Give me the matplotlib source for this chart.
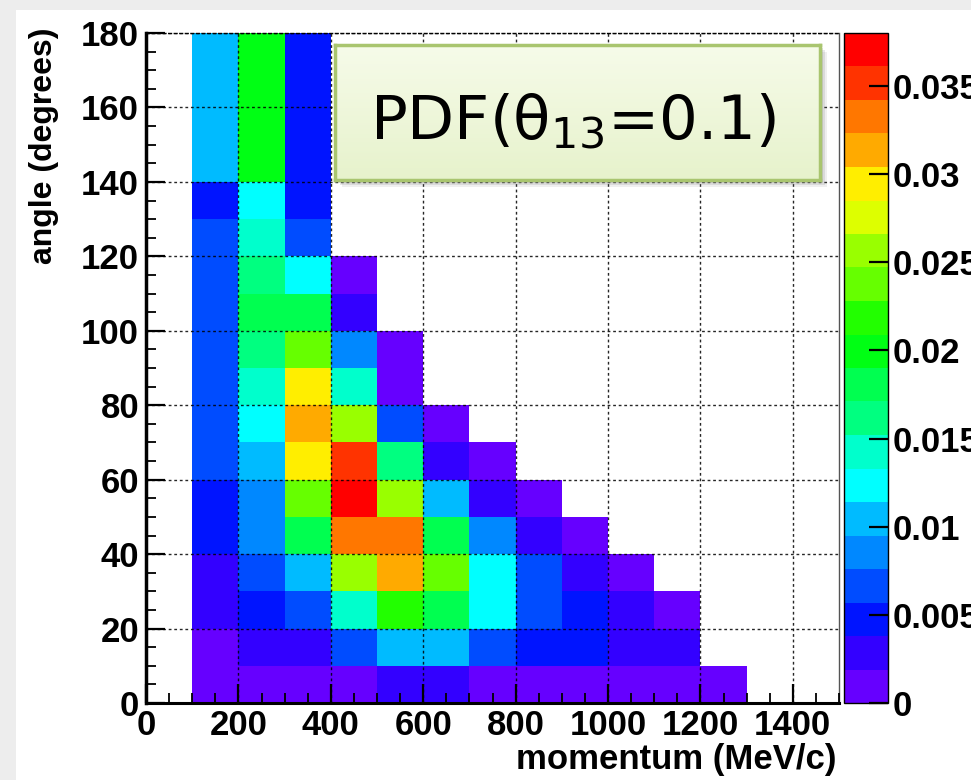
import numpy as np
import matplotlib
matplotlib.use("Agg")
import matplotlib.pyplot as plt
from matplotlib.colors import ListedColormap, BoundaryNorm
from matplotlib.ticker import MultipleLocator
from matplotlib.patches import Rectangle

# ---------------- data ----------------
momentum_edges = list(range(0, 1600, 100))   # MeV/c, 15 bins
angle_edges = list(range(0, 190, 10))        # degrees, 18 bins

# PDF value per (angle bin, momentum bin); rows from angle 0-10 up to 170-180,
# columns from momentum 0-100 up to 1400-1500 (0 = empty bin)
pdf_rows = [
    [0, .0010, .0010, .0010, .0010, .0029, .0029, .0010, .0010, .0010, .0010, .0010, .0010, 0, 0],  # 0-10
    [0, .0010, .0029, .0029, .0067, .0105, .0105, .0067, .0048, .0048, .0029, .0029, 0, 0, 0],        # 10-20
    [0, .0029, .0048, .0067, .0143, .0219, .0181, .0124, .0067, .0048, .0029, .0010, 0, 0, 0],        # 20-30
    [0, .0029, .0067, .0105, .0257, .0314, .0238, .0124, .0067, .0029, .0010, 0, 0, 0, 0],            # 30-40
    [0, .0048, .0086, .0181, .0333, .0333, .0181, .0086, .0029, .0010, 0, 0, 0, 0, 0],                # 40-50
    [0, .0048, .0086, .0238, .0371, .0257, .0105, .0029, .0010, 0, 0, 0, 0, 0, 0],                    # 50-60
    [0, .0067, .0105, .0295, .0352, .0162, .0029, .0010, 0, 0, 0, 0, 0, 0, 0],                        # 60-70
    [0, .0067, .0124, .0314, .0257, .0067, .0010, 0, 0, 0, 0, 0, 0, 0, 0],                            # 70-80
    [0, .0067, .0143, .0295, .0143, .0010, 0, 0, 0, 0, 0, 0, 0, 0, 0],                                # 80-90
    [0, .0067, .0162, .0238, .0086, .0010, 0, 0, 0, 0, 0, 0, 0, 0, 0],                                # 90-100
    [0, .0067, .0181, .0181, .0029, 0, 0, 0, 0, 0, 0, 0, 0, 0, 0],                                    # 100-110
    [0, .0067, .0162, .0124, .0010, 0, 0, 0, 0, 0, 0, 0, 0, 0, 0],                                    # 110-120
    [0, .0067, .0143, .0067, 0, 0, 0, 0, 0, 0, 0, 0, 0, 0, 0],                                        # 120-130
    [0, .0048, .0124, .0048, 0, 0, 0, 0, 0, 0, 0, 0, 0, 0, 0],                                        # 130-140
    [0, .0105, .0200, .0048, 0, 0, 0, 0, 0, 0, 0, 0, 0, 0, 0],                                        # 140-150
    [0, .0105, .0200, .0048, 0, 0, 0, 0, 0, 0, 0, 0, 0, 0, 0],                                        # 150-160
    [0, .0105, .0200, .0048, 0, 0, 0, 0, 0, 0, 0, 0, 0, 0, 0],                                        # 160-170
    [0, .0105, .0200, .0048, 0, 0, 0, 0, 0, 0, 0, 0, 0, 0, 0],                                        # 170-180
]

z_max = 0.038
n_levels = 20
cbar_ticks = [0, 0.005, 0.01, 0.015, 0.02, 0.025, 0.03, 0.035]
cbar_ticklabels = ["0", "0.005", "0.01", "0.015", "0.02", "0.025", "0.03", "0.035"]
title_text = "PDF(θ$_{13}$=0.1)"
x_label = "momentum (MeV/c)"
y_label = "angle (degrees)"

palette = ["#6600FF", "#3300FF", "#0014FF", "#004CFF", "#0088FF", "#00BBFF",
           "#00FFFF", "#00FFCC", "#00FF80", "#00FF50", "#00FF14", "#22FF00",
           "#66FF00", "#99FF00", "#DDFF00", "#FFEE00", "#FFAA00", "#FF7700",
           "#FF3300", "#FF0000"]

# ---------------- figure ----------------
W, H = 971, 780
fig = plt.figure(figsize=(W / 100, H / 100), dpi=100)
fig.patch.set_facecolor("#EDEDED")
fig.add_artist(Rectangle((16 / W, 0), 1, 1 - 10 / H, transform=fig.transFigure,
                         facecolor="white", edgecolor="none", zorder=-10))

FONT = "Liberation Sans"
TICK_FS = 25

ax = fig.add_axes([146 / W, 1 - 703 / H, 693 / W, 670 / H])
ax.set_facecolor("white")
ax.set_zorder(0)

Z = np.ma.masked_less_equal(np.array(pdf_rows, dtype=float), 0)
cmap = ListedColormap(palette)
norm = BoundaryNorm(np.linspace(0, z_max, n_levels + 1), cmap.N)
mesh = ax.pcolormesh(momentum_edges, angle_edges, Z, cmap=cmap, norm=norm,
                     shading="flat", zorder=1)

ax.set_xlim(0, 1500)
ax.set_ylim(0, 180)
ax.xaxis.set_major_locator(MultipleLocator(200))
ax.xaxis.set_minor_locator(MultipleLocator(50))
ax.yaxis.set_major_locator(MultipleLocator(20))
ax.yaxis.set_minor_locator(MultipleLocator(5))
ax.grid(True, which="major", color="black", linestyle=(0, (2, 2)),
        linewidth=1.0, alpha=0.85, zorder=3)
ax.set_axisbelow(False)

ax.tick_params(which="major", direction="in", length=14, width=1.6,
               top=False, right=False, colors="black")
ax.tick_params(which="minor", direction="in", length=7, width=1.3,
               top=False, right=False)
ax.tick_params(axis="x", pad=4)
ax.tick_params(axis="y", pad=5)
for lab in ax.get_xticklabels() + ax.get_yticklabels():
    lab.set_fontfamily(FONT)
    lab.set_fontweight("bold")
    lab.set_fontsize(TICK_FS)

ax.spines["left"].set_linewidth(2.5)
ax.spines["bottom"].set_linewidth(2.2)
ax.spines["top"].set_linewidth(1.0)
ax.spines["top"].set_linestyle((0, (2, 2)))
ax.spines["right"].set_linewidth(1.0)
ax.spines["right"].set_color("#555555")

fig.text(836 / W, 1 - 760 / H, x_label, ha="right", va="center",
         fontfamily=FONT, fontweight="bold", fontsize=25)
fig.text(44 / W, 1 - 27 / H, y_label, ha="center", va="top", rotation=90,
         fontfamily=FONT, fontweight="bold", fontsize=23)

# ---------------- colour bar ----------------
cax = fig.add_axes([844 / W, 1 - 703 / H, 44 / W, 670 / H])
cb = fig.colorbar(mesh, cax=cax, ticks=cbar_ticks, spacing="proportional")
cb.ax.set_yticklabels(cbar_ticklabels)
cb.outline.set_linewidth(1.0)
cb.outline.set_edgecolor("black")
cax.tick_params(direction="in", length=14, width=1.6, right=True, left=False,
                pad=3)
cax.minorticks_off()
for lab in cax.get_yticklabels():
    lab.set_fontfamily(FONT)
    lab.set_fontweight("bold")
    lab.set_fontsize(TICK_FS)

# ---------------- title box ----------------
bx0, by0, bw, bh = 335, 45, 485, 135
for k, a in ((7, 0.12), (5, 0.18), (3, 0.22)):
    fig.add_artist(Rectangle(((bx0 + k) / W, 1 - (by0 + bh + k) / H), bw / W, bh / H,
                             transform=fig.transFigure, facecolor="#808080",
                             edgecolor="none", alpha=a, zorder=1))
tax = fig.add_axes([bx0 / W, 1 - (by0 + bh) / H, bw / W, bh / H])
tax.set_zorder(2)
grad = np.linspace(0, 1, 64).reshape(-1, 1)
top_c = np.array([0.965, 0.985, 0.915])
bot_c = np.array([0.905, 0.950, 0.800])
img = top_c[None, None, :] * (1 - grad[:, :, None]) + bot_c[None, None, :] * grad[:, :, None]
tax.imshow(img, aspect="auto", extent=(0, 1, 0, 1), origin="upper")
tax.set_xticks([])
tax.set_yticks([])
for s in tax.spines.values():
    s.set_color("#A9C56F")
    s.set_linewidth(2.5)
tax.text(0.49, 0.30, title_text, ha="center", va="baseline",
         fontfamily="DejaVu Sans", fontsize=44, color="black",
         transform=tax.transAxes)

fig.savefig("out.png", dpi=100, facecolor=fig.get_facecolor())
